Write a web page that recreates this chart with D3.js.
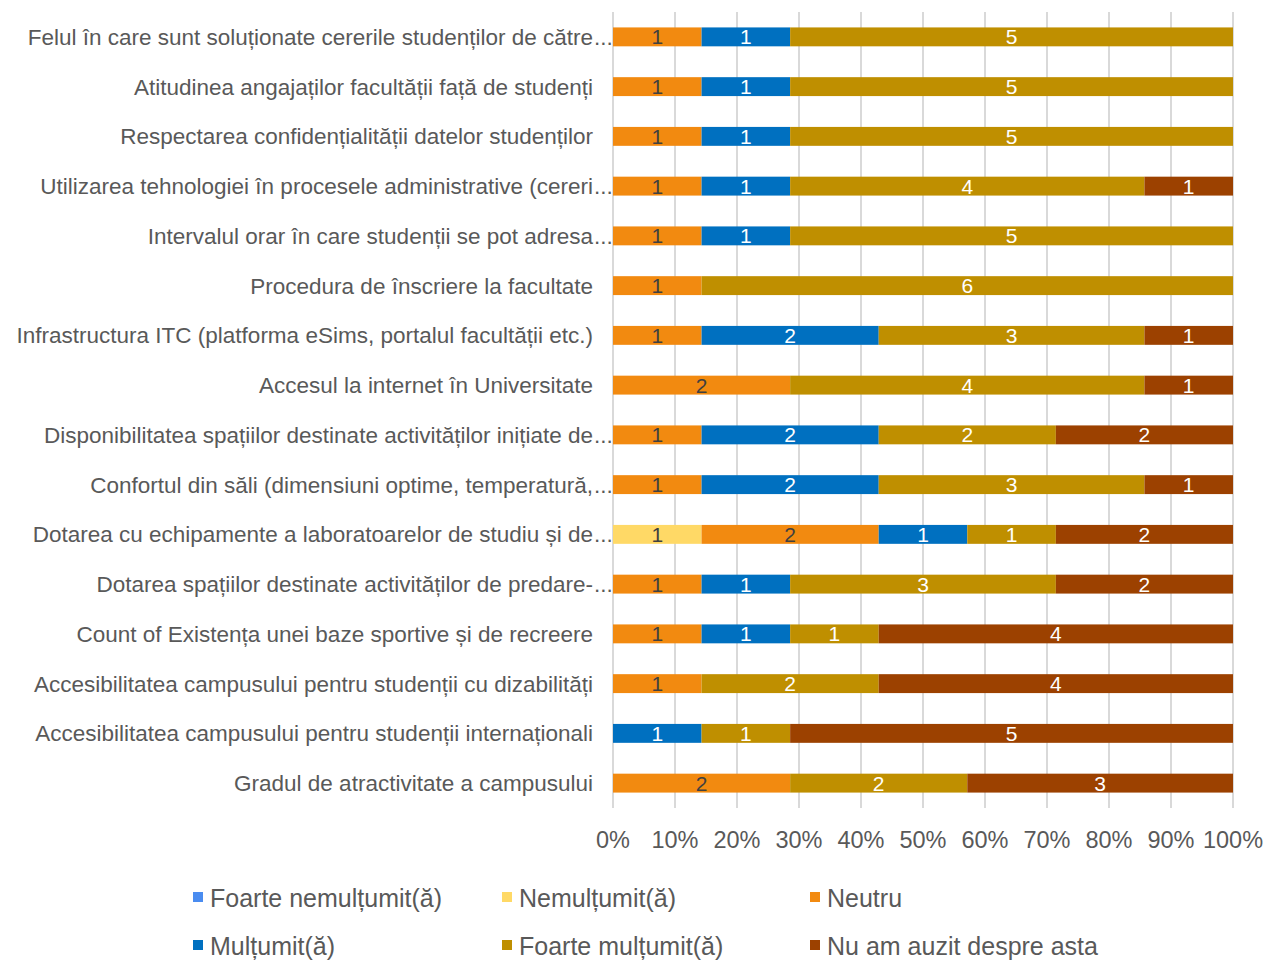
<!DOCTYPE html>
<html>
<head>
<meta charset="utf-8">
<script src="https://cdn.jsdelivr.net/npm/d3@7"></script>
<style>
  body { margin: 0; background: #fff; }
  text { font-family: "Liberation Sans", Arial, sans-serif; }
</style>
</head>
<body>
<svg id="ch" width="1270" height="960"></svg>
<script>
// categorii (de sus in jos)
var categorii = [
  "Felul în care sunt soluționate cererile studenților de către...",
  "Atitudinea angajaților facultății față de studenți",
  "Respectarea confidențialității datelor studenților",
  "Utilizarea tehnologiei în procesele administrative (cereri...",
  "Intervalul orar în care studenții se pot adresa...",
  "Procedura de înscriere la facultate",
  "Infrastructura ITC (platforma eSims, portalul facultății etc.)",
  "Accesul la internet în Universitate",
  "Disponibilitatea spațiilor destinate activităților inițiate de...",
  "Confortul din săli (dimensiuni optime, temperatură,...",
  "Dotarea cu echipamente a laboratoarelor de studiu și de...",
  "Dotarea spațiilor destinate activităților de predare-...",
  "Count of Existența unei baze sportive și de recreere",
  "Accesibilitatea campusului pentru studenții cu dizabilități",
  "Accesibilitatea campusului pentru studenții internaționali",
  "Gradul de atractivitate a campusului"
];

var foarteNemultumit = [0,0,0,0,0,0,0,0,0,0,0,0,0,0,0,0];
var nemultumit       = [0,0,0,0,0,0,0,0,0,0,1,0,0,0,0,0];
var neutru           = [1,1,1,1,1,1,1,2,1,1,2,1,1,1,0,2];
var multumit         = [1,1,1,1,1,0,2,0,2,2,1,1,1,0,1,0];
var foarteMultumit   = [5,5,5,4,5,6,3,4,2,3,1,3,1,2,1,2];
var nuAmAuzit        = [0,0,0,1,0,0,1,1,2,1,2,2,4,4,5,3];

var serii = ["Foarte nemulțumit(ă)", "Nemulțumit(ă)", "Neutru",
             "Mulțumit(ă)", "Foarte mulțumit(ă)", "Nu am auzit despre asta"];
var culori = ["#4a8cf0", "#ffd966", "#f28a10", "#0070c0", "#bf8f00", "#9c4100"];
var culoriText = ["#404040", "#404040", "#404040", "#ffffff", "#ffffff", "#ffffff"];
var ticks = [0, 0.1, 0.2, 0.3, 0.4, 0.5, 0.6, 0.7, 0.8, 0.9, 1];

var valori = [foarteNemultumit, nemultumit, neutru, multumit, foarteMultumit, nuAmAuzit];
var data = categorii.map(function (c, i) {
  var o = {cat: c};
  serii.forEach(function (s, j) { o[s] = valori[j][i]; });
  return o;
});

var margin = {top: 12, left: 613, right: 37, bottom: 152};
var width = 1270 - margin.left - margin.right,
    height = 960 - margin.top - margin.bottom;

var svg = d3.select("#ch");
var g = svg.append("g").attr("transform", "translate(" + margin.left + "," + margin.top + ")");

var x = d3.scaleLinear().domain([0, 1]).range([0, width]);
var y = d3.scaleBand().domain(categorii).range([0, height]).paddingInner(0.62).paddingOuter(0.31);

// grid
g.selectAll(".grid").data(ticks).enter().append("line")
  .attr("x1", function (d) { return x(d); })
  .attr("x2", function (d) { return x(d); })
  .attr("y1", 0).attr("y2", height)
  .style("stroke", "#d9d9d9").style("stroke-width", 2);

var stack = d3.stack().keys(serii).offset(d3.stackOffsetExpand);
var stacked = stack(data);

var layer = g.selectAll(".series").data(stacked).enter().append("g")
  .attr("class", "series")
  .attr("fill", function (d, i) { return culori[i]; });

layer.selectAll("rect").data(function (d) { return d; }).enter().append("rect")
  .attr("x", function (d) { return x(d[0]); })
  .attr("width", function (d) { return x(d[1]) - x(d[0]); })
  .attr("y", function (d) { return y(d.data.cat); })
  .attr("height", y.bandwidth());

layer.each(function (s, i) {
  d3.select(this).selectAll("text").data(s.filter(function (d) { return d.data[s.key] > 0; }))
    .enter().append("text")
    .attr("x", function (d) { return (x(d[0]) + x(d[1])) / 2; })
    .attr("y", function (d) { return y(d.data.cat) + y.bandwidth() / 2; })
    .attr("dy", "0.36em")
    .attr("text-anchor", "middle")
    .style("font-size", "21px")
    .style("fill", culoriText[i])
    .text(function (d) { return d.data[s.key]; });
});

// etichete categorii
var lab = g.selectAll(".lab").data(categorii).enter().append("g");
lab.append("text")
  .attr("x", -20)
  .attr("y", function (d) { return y(d) + y.bandwidth() / 2; })
  .attr("dy", "0.36em")
  .attr("text-anchor", "end")
  .style("font-size", "22.5px")
  .style("fill", "#595959")
  .text(function (d) { return d.replace(/\.\.\.$/, ""); });
lab.filter(function (d) { return /\.\.\.$/.test(d); }).append("text")
  .attr("x", -19)
  .attr("y", function (d) { return y(d) + y.bandwidth() / 2; })
  .attr("dy", "0.36em")
  .style("font-size", "22.5px")
  .style("fill", "#595959")
  .text("...");

// axa x
g.selectAll(".tick").data(ticks).enter().append("text")
  .attr("x", function (d) { return x(d); })
  .attr("y", height + 40)
  .attr("text-anchor", "middle")
  .style("font-size", "23.5px")
  .style("fill", "#595959")
  .text(d3.format(".0%"));

// legenda
var legX = [193, 502, 810], legY = [898, 946];
var leg = svg.selectAll(".leg").data(serii).enter().append("g")
  .attr("transform", function (d, i) {
    return "translate(" + legX[i % 3] + "," + legY[Math.floor(i / 3)] + ")";
  });
leg.append("rect").attr("x", 0).attr("y", -6).attr("width", 10).attr("height", 10)
  .attr("fill", function (d, i) { return culori[i]; });
leg.append("text").attr("x", 17).attr("y", 0).attr("dy", "0.36em")
  .style("font-size", "25px").style("fill", "#595959")
  .text(function (d) { return d; });
</script>
</body>
</html>
